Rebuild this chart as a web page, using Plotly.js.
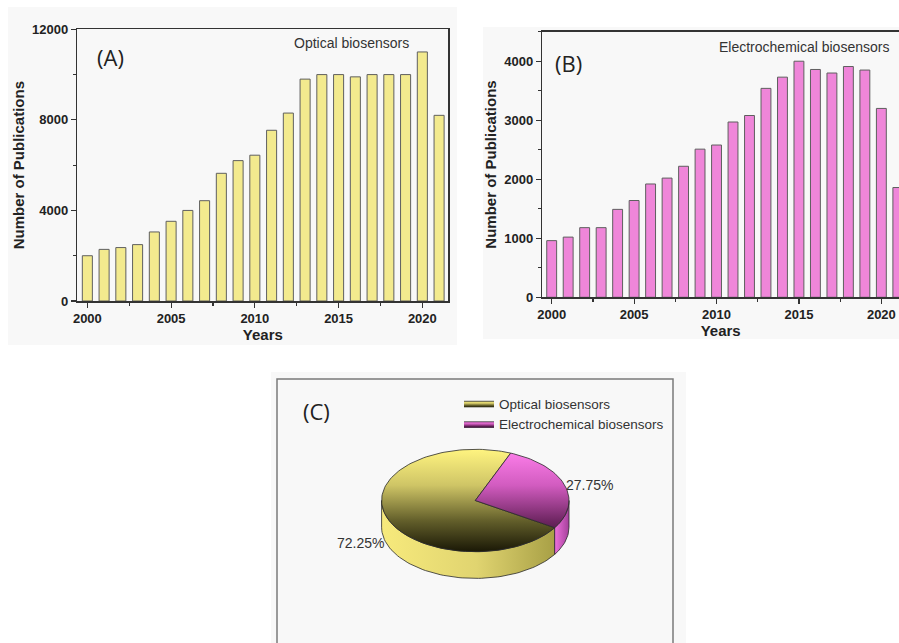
<!DOCTYPE html>
<html><head><meta charset="utf-8">
<script src="https://cdn.plot.ly/plotly-3.0.1.min.js"></script>
<style>html,body{margin:0;padding:0;background:#fff}#chart{width:899px;height:643px}</style>
</head><body><div id="chart"></div>
<script>
// ---- data ----
const years = [2000,2001,2002,2003,2004,2005,2006,2007,2008,2009,2010,2011,2012,2013,2014,2015,2016,2017,2018,2019,2020,2021];
const opticalPubs = [2000,2280,2360,2490,3050,3520,4000,4430,5640,6200,6440,7540,8300,9800,10000,10000,9900,10000,10000,10000,11000,8200];
const electroPubs = [960,1020,1180,1180,1490,1640,1920,2020,2220,2510,2580,2970,3080,3540,3730,4000,3860,3800,3910,3850,3200,1860];
const pieLabels = ['Optical biosensors','Electrochemical biosensors'];
const pieShares = [72.25, 27.75];
const yTicksA = [0,4000,8000,12000];
const yTicksB = [0,1000,2000,3000,4000];
const xTicks = [2000,2005,2010,2015,2020];

// ---- page geometry helpers (pixels -> paper) ----
const W = 899, H = 643;
const px = v => v / W;
const py = v => 1 - v / H;

const tickFont = {family:'Liberation Sans, Arial, sans-serif', size:13, color:'#222', weight:'bold'};
const titleFont = {family:'Liberation Sans, Arial, sans-serif', size:15, color:'#222', weight:'bold'};
const textFont = {family:'Liberation Sans, Arial, sans-serif', size:14, color:'#333'};

const traces = [];
traces.push({
  type:'bar', x:years, y:opticalPubs, xaxis:'x', yaxis:'y', width:0.6,
  marker:{color:'#f3ea8e', line:{color:'#5f5f5f', width:1}}, showlegend:false, hoverinfo:'x+y'
});
traces.push({
  type:'bar', x:years, y:electroPubs, xaxis:'x2', yaxis:'y2', width:0.6,
  marker:{color:'#ef86d9', line:{color:'#5f5f5f', width:1}}, showlegend:false, hoverinfo:'x+y'
});

// ---- 3D-looking pie built from pieShares ----
const cx = 475.3, cy = 500.5, rx = 93.7, ry = 51.2, depth = 26.7, startDeg = 67.8;
const total = pieShares.reduce((a,b)=>a+b,0);
const topColors = [
  [[0,'#1a1806'],[0.3,'#625e2a'],[0.65,'#cfc566'],[1,'#fff480']],
  [[0,'#220620'],[0.3,'#6e2662'],[0.65,'#d25cc0'],[1,'#ff80ec']]
];
const sideColors = [
  [[0,'#f7ea7c'],[0.55,'#e0d470'],[1,'#a8a046']],
  [[0,'#ee70dc'],[1,'#a4409a']]
];
const rad = d => d*Math.PI/180;
const ex = t => cx + rx*Math.cos(rad(t));
const ey = (t, dz) => cy - ry*Math.sin(rad(t)) + (dz||0);
function arc(a, b, dz){ // from a to b
  const n = Math.max(2, Math.ceil(Math.abs(b-a)/2));
  const xs=[], ys=[];
  for(let k=0;k<=n;k++){ const t = a + (b-a)*k/n; xs.push(ex(t)); ys.push(ey(t,dz)); }
  return [xs, ys];
}
// clockwise order: electrochemical first from startDeg, then optical
const drawOrder = [1, 0];
let a0 = startDeg;
const sliceAngles = {};
drawOrder.forEach(i => {
  const a1 = a0 - pieShares[i]/total*360;
  sliceAngles[i] = [a1, a0];
  a0 = a1;
});
// sides
[0,1].forEach(i => {
  const [a1, a0s] = sliceAngles[i];
  for(let k=-1;k<=1;k++){
    const lo = Math.max(a1, -180+360*k), hi = Math.min(a0s, 360*k);
    if(lo < hi){
      const [tx, ty] = arc(lo, hi, 0);
      const [bx, by] = arc(hi, lo, depth);
      traces.push({
        type:'scatter', mode:'lines', xaxis:'x3', yaxis:'y3',
        x: tx.concat(bx, [tx[0]]), y: ty.concat(by, [ty[0]]),
        fill:'toself', fillgradient:{type:'horizontal', colorscale: sideColors[i]},
        line:{color:'#2a2a2a', width:0.8}, showlegend:false, hoverinfo:'skip'
      });
    }
  }
});
// tops (legend entries)
[0,1].forEach(i => {
  const [a1, a0s] = sliceAngles[i];
  const [axs, ays] = arc(a0s, a1, 0);
  traces.push({
    type:'scatter', mode:'lines', xaxis:'x3', yaxis:'y3', name: pieLabels[i],
    x: [cx].concat(axs, [cx]), y: [cy].concat(ays, [cy]),
    fill:'toself',
    fillgradient:{type:'vertical', colorscale: topColors[i], start: cy+ry, stop: cy-ry},
    line:{color:'#2a2a2a', width:0.8}, showlegend:true,
    text: pieShares[i].toFixed(2)+'%', hoverinfo:'name+text'
  });
});
const annotations = [];
[0,1].forEach(i => {
  const [a1, a0s] = sliceAngles[i];
  const mid = (a1 + a0s)/2;
  const s = Math.sin(rad(mid)), c = Math.cos(rad(mid));
  annotations.push({
    xref:'x3', yref:'y3', x: ex(mid), y: ey(mid, s < 0 ? depth : 0),
    text: pieShares[i].toFixed(2)+'%', showarrow:false,
    xanchor: c > 0 ? 'left' : 'right', yanchor:'middle',
    font:textFont
  });
});
const panelFont = {family:'Open Sans, Liberation Sans, sans-serif', size:22, color:'#222'};
annotations.push(
  {xref:'paper', yref:'paper', x:px(95), y:py(57), text:'(A)', showarrow:false, xanchor:'left', yanchor:'middle', font:panelFont},
  {xref:'paper', yref:'paper', x:px(553), y:py(63), text:'(B)', showarrow:false, xanchor:'left', yanchor:'middle', font:panelFont},
  {xref:'paper', yref:'paper', x:px(301), y:py(411), text:'(C)', showarrow:false, xanchor:'left', yanchor:'middle', font:panelFont},
  {xref:'paper', yref:'paper', x:px(411), y:py(43), text:'Optical biosensors', showarrow:false, xanchor:'right', yanchor:'middle', font:textFont},
  {xref:'paper', yref:'paper', x:px(891), y:py(47), text:'Electrochemical biosensors', showarrow:false, xanchor:'right', yanchor:'middle', font:textFont}
);

const shapes = [
  {type:'rect', xref:'paper', yref:'paper', x0:px(8), x1:px(457), y0:py(345), y1:py(7), fillcolor:'#f8f8f8', line:{width:0}, layer:'below'},
  {type:'rect', xref:'paper', yref:'paper', x0:px(483), x1:px(899), y0:py(339), y1:py(27), fillcolor:'#f8f8f8', line:{width:0}, layer:'below'},
  {type:'rect', xref:'paper', yref:'paper', x0:px(271), x1:px(686), y0:py(643), y1:py(372), fillcolor:'#f8f8f8', line:{width:0}, layer:'below'},
  {type:'rect', xref:'paper', yref:'paper', x0:px(277), x1:px(673), y0:py(650), y1:py(379), fillcolor:'rgba(0,0,0,0)', line:{color:'#7a7a7a', width:1.5}, layer:'below'}
];

function barX(domain, range){
  return {domain, range, tickvals:xTicks, ticks:'outside', ticklen:5, tickwidth:1.2, tickcolor:'#333',
    minor:{dtick:2.5, tick0:2000, ticks:'outside', ticklen:3, tickcolor:'#333'},
    showline:true, mirror:true, linecolor:'#333', linewidth:1.5, showgrid:false, zeroline:false,
    tickfont:tickFont, title:{text:'Years', font:titleFont, standoff:0}};
}
function barY(domain, range, tv, dminor){
  return {domain, range, tickvals:tv, tickformat:'d', ticks:'outside', ticklen:5, tickwidth:1.2, tickcolor:'#333',
    minor:{dtick:dminor, tick0:0, ticks:'outside', ticklen:3, tickcolor:'#333'},
    showline:true, mirror:true, linecolor:'#333', linewidth:1.5, showgrid:false, zeroline:false,
    tickfont:tickFont, title:{text:'Number of Publications', font:titleFont, standoff:4}};
}

const layout = {
  width:W, height:H, margin:{l:0,r:0,t:0,b:0}, paper_bgcolor:'#ffffff', plot_bgcolor:'#f9f9f9',
  showlegend:true,
  legend:{x:px(459), y:py(388), xanchor:'left', yanchor:'top', bgcolor:'rgba(0,0,0,0)',
    font:{family:'Liberation Sans, Arial, sans-serif', size:13.5, color:'#333'}, tracegroupgap:0, itemwidth:30},
  xaxis: barX([px(77.3), px(448.3)], [1999.4, 2021.55]),
  yaxis: barY([1-301/H, 1-29.3/H], [0, 12000], yTicksA, 2000),
  xaxis2: Object.assign(barX([px(542.3), 1], [1999.43, 2021.07]), {anchor:'y2'}),
  yaxis2: Object.assign(barY([1-297.3/H, 1-31.7/H], [0, 4500], yTicksB, 500), {anchor:'x2'}),
  xaxis3: {domain:[px(277), px(673)], range:[277, 673], visible:false, anchor:'y3', fixedrange:true},
  yaxis3: {domain:[0, py(379)], range:[643, 379], visible:false, anchor:'x3', fixedrange:true},
  bargap:0.4,
  annotations, shapes
};
layout.xaxis.anchor = 'y';
layout.yaxis.anchor = 'x';
Plotly.newPlot('chart', traces, layout, {displayModeBar:false, staticPlot:true});
</script>
</body></html>
